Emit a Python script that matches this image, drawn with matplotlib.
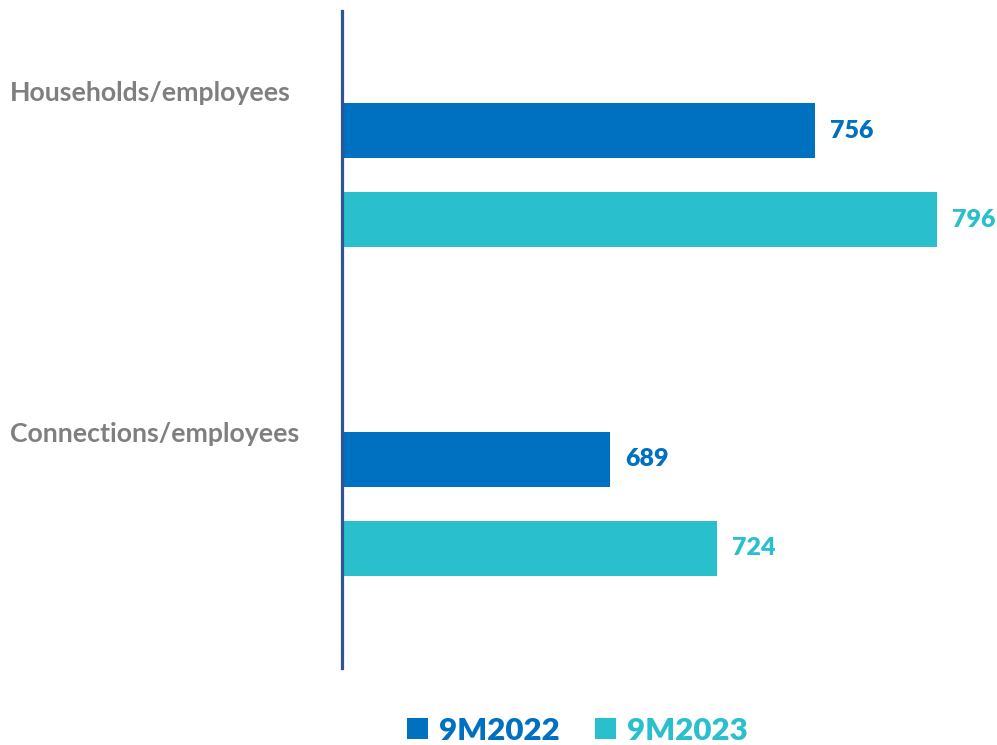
import matplotlib.pyplot as plt
import matplotlib.transforms as mtransforms
import numpy as np

plt.rcParams['font.family'] = ['Lato', 'DejaVu Sans']

categories = ["Households/employees", "Connections/employees"]
series_names = ["9M2022", "9M2023"]
values_2022 = [756, 689]
values_2023 = [796, 724]

blue = "#0070C0"
cyan = "#2ABFCD"
grey = "#7F7F7F"

fig = plt.figure(figsize=(9.97, 7.45), dpi=100)
ax = fig.add_axes([342 / 997, 77 / 745, 655 / 997, 657 / 745])

y = np.arange(len(categories))
offset = 0.1355
height = 0.168

bars1 = ax.barh(y - offset, values_2022, height=height, color=blue, label=series_names[0])
bars2 = ax.barh(y + offset, values_2023, height=height, color=cyan, label=series_names[1])

ax.set_xlim(601, 815.75)
ax.set_ylim(1.5, -0.5)

# value labels at bar ends
for bars, vals, col in [(bars1, values_2022, blue), (bars2, values_2023, cyan)]:
    for bar, v in zip(bars, vals):
        ax.annotate(str(v), xy=(v, bar.get_y() + bar.get_height() / 2),
                    xytext=(11, 0), textcoords="offset points",
                    va="center", ha="left", fontsize=18, fontweight="heavy", color=col)

# category labels on the left, above each group
trans = mtransforms.blended_transform_factory(fig.transFigure, ax.transData)
label_shift = [-0.25, -0.213]
for yi, name, s in zip(y, categories, label_shift):
    ax.text(10 / 997, yi + s, name, transform=trans, ha="left", va="center",
            fontsize=19.2, fontweight="bold", color=grey)

ax.set_xticks([])
ax.set_yticks([])
for side in ["top", "right", "bottom"]:
    ax.spines[side].set_visible(False)
ax.spines["left"].set_color("#2F5597")
ax.spines["left"].set_linewidth(2.3)

leg = fig.legend(handles=[bars1, bars2], loc="center", bbox_to_anchor=(0.579, 0.019),
                 ncol=2, frameon=False, fontsize=22.5, handlelength=0.66, handleheight=0.66,
                 handletextpad=0.35, columnspacing=1.15, borderaxespad=0)
for txt, col in zip(leg.get_texts(), [blue, cyan]):
    txt.set_color(col)
    txt.set_fontweight("heavy")

fig.savefig("out.png", dpi=100)
